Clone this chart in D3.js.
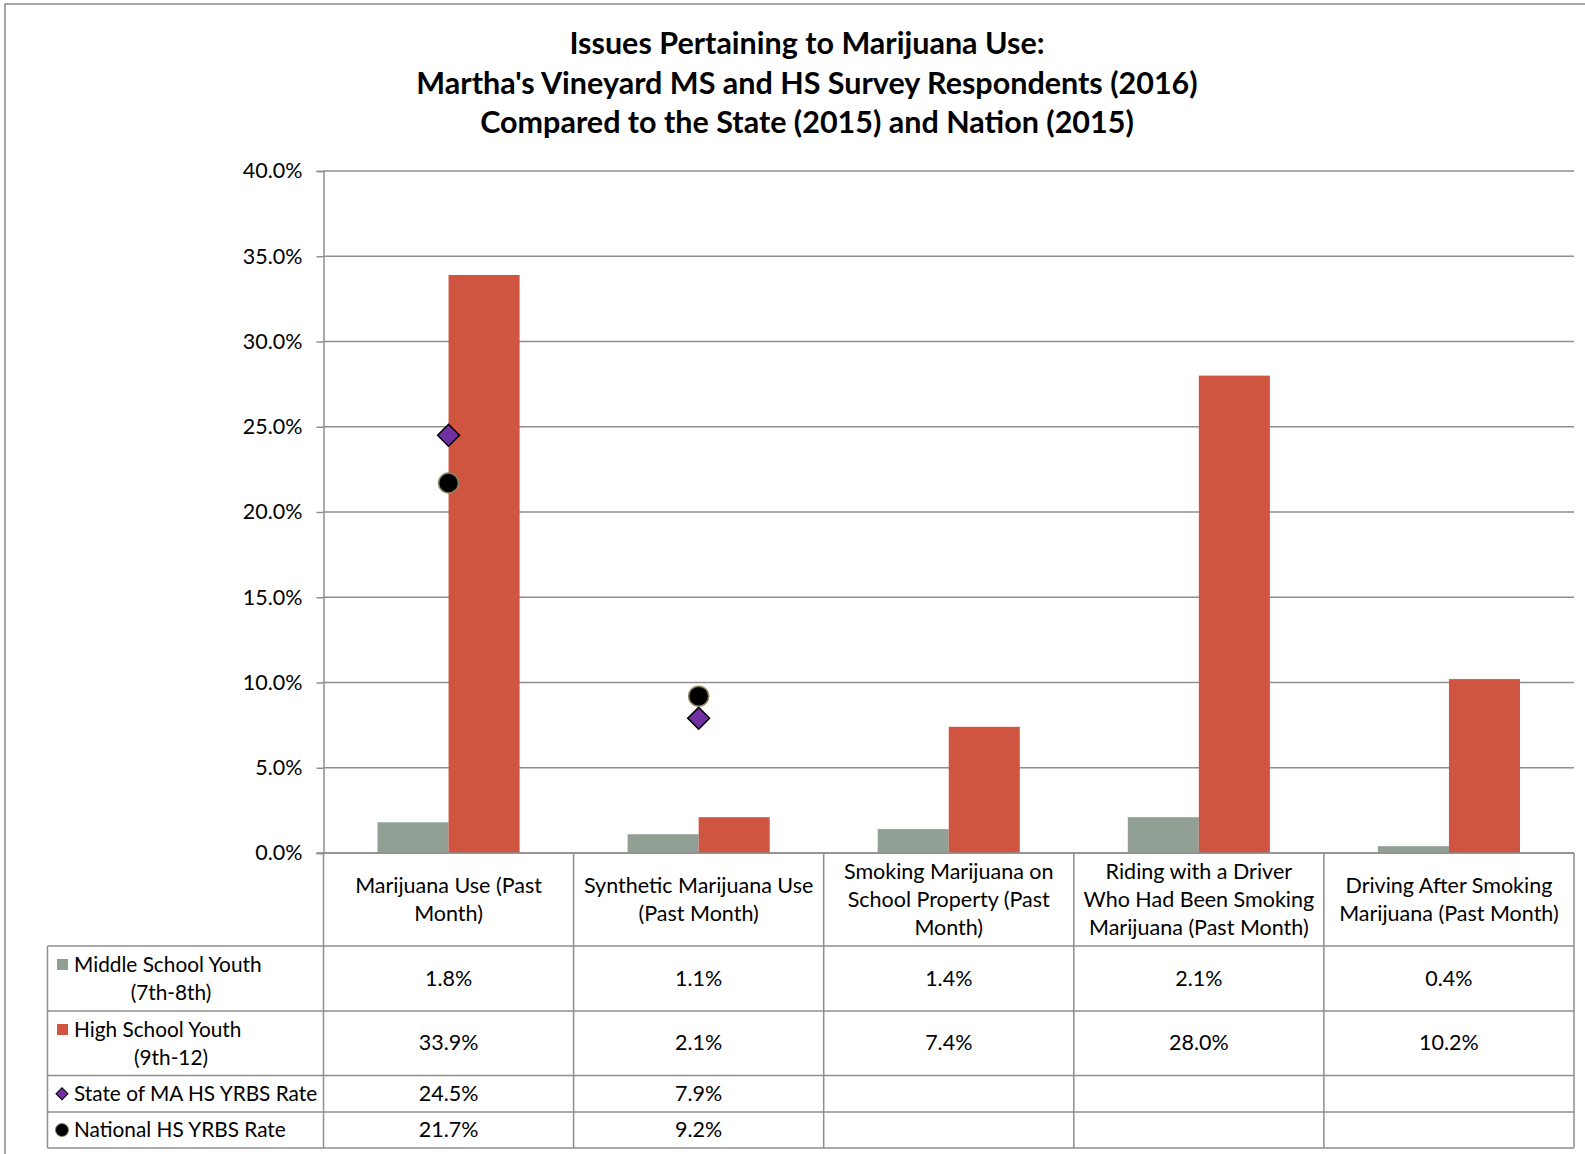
<!DOCTYPE html>
<html>
<head>
<meta charset="utf-8">
<script src="https://cdn.jsdelivr.net/npm/d3@7"></script>
<style>
  body { margin: 0; background: #fff; }
  svg { display: block; font-family: Lato, "Open Sans", sans-serif; }
</style>
</head>
<body>
<svg id="chart"></svg>
<script>
// data
var categories = [
  ["Marijuana Use (Past", "Month)"],
  ["Synthetic Marijuana Use", "(Past Month)"],
  ["Smoking Marijuana on", "School Property (Past", "Month)"],
  ["Riding with a Driver", "Who Had Been Smoking", "Marijuana (Past Month)"],
  ["Driving  After Smoking", "Marijuana (Past Month)"]
]
var msValues = [1.8, 1.1, 1.4, 2.1, 0.4]
var hsValues = [33.9, 2.1, 7.4, 28.0, 10.2]
var stateValues = [24.5, 7.9, null, null, null]
var nationValues = [21.7, 9.2, null, null, null]
var yTicks = [0, 5, 10, 15, 20, 25, 30, 35, 40]
var titleLines = [
  "Issues Pertaining to Marijuana Use:",
  "Martha's Vineyard MS and HS Survey Respondents (2016)",
  "Compared to the State (2015) and Nation (2015)"
]

var width = 1585
var height = 1154
var plotLeft = 323.5, plotRight = 1574, plotTop = 171, plotBottom = 853
var tableLeft = 47.5
var rowEdges = [853, 946, 1011, 1075.5, 1112, 1148]
var gridColor = "#8e8e8e"
var msColor = "#929f94"
var hsColor = "#d05541"
var fs = "21.5px"
var legendFs = "20.8px"

var svg = d3.select("#chart")
    .attr("width", width)
    .attr("height", height)

// outer chart frame
svg.append("rect")
    .attr("x", 5).attr("y", 4)
    .attr("width", width + 10).attr("height", height + 10)
    .attr("fill", "#fff")
    .attr("stroke", "#8a8a8a")
    .attr("stroke-width", 1.5)

// title
svg.append("g").selectAll("text")
    .data(titleLines)
    .enter().append("text")
    .attr("x", 807)
    .attr("y", function(d, i) { return 54 + i * 39.5 })
    .attr("text-anchor", "middle")
    .style("font-size", "30.5px")
    .style("font-weight", "bold")
    .style("fill", "#000")
    .text(function(d) { return d })

var x = d3.scaleBand()
    .domain(d3.range(categories.length))
    .range([plotLeft, plotRight])

var x1 = d3.scaleBand()
    .domain(["ms", "hs"])
    .range([0, x.bandwidth()])
    .paddingOuter(0.76)
    .paddingInner(0)

var y = d3.scaleLinear()
    .domain([0, 40])
    .range([plotBottom, plotTop])

// gridlines
svg.append("g")
    .selectAll("line")
    .data(yTicks)
    .enter().append("line")
    .attr("x1", plotLeft).attr("x2", plotRight)
    .attr("y1", function(d) { return y(d) })
    .attr("y2", function(d) { return y(d) })
    .attr("stroke", gridColor)
    .attr("stroke-width", 1.5)

// y axis
var yAxis = svg.append("g")
    .attr("transform", "translate(" + plotLeft + ",0)")
    .call(d3.axisLeft(y).tickValues(yTicks).tickSize(7).tickPadding(14)
        .tickFormat(function(d) { return d.toFixed(1) + "%" }))
yAxis.selectAll("path, line").attr("stroke", gridColor).attr("stroke-width", 1.5)
yAxis.selectAll("text")
    .style("font-size", fs)
    .style("font-family", "Lato, sans-serif")
    .attr("fill", "#000")

// bars
var bars = svg.append("g")
bars.selectAll("rect.ms")
    .data(msValues)
    .enter().append("rect")
    .attr("class", "ms")
    .attr("x", function(d, i) { return x(i) + x1("ms") })
    .attr("width", x1.bandwidth())
    .attr("y", function(d) { return y(d) })
    .attr("height", function(d) { return y(0) - y(d) })
    .attr("fill", msColor)
bars.selectAll("rect.hs")
    .data(hsValues)
    .enter().append("rect")
    .attr("class", "hs")
    .attr("x", function(d, i) { return x(i) + x1("hs") })
    .attr("width", x1.bandwidth())
    .attr("y", function(d) { return y(d) })
    .attr("height", function(d) { return y(0) - y(d) })
    .attr("fill", hsColor)

// markers
var diamond = d3.symbol().type(d3.symbolSquare).size(240)
svg.append("g").selectAll("path")
    .data(stateValues.map(function(v, i) { return {v: v, i: i} }).filter(function(d) { return d.v != null }))
    .enter().append("path")
    .attr("d", diamond)
    .attr("transform", function(d) {
        return "translate(" + (x(d.i) + x.bandwidth() / 2) + "," + y(d.v) + ") rotate(45)"
    })
    .attr("fill", "#7030a0")
    .attr("stroke", "#000")
    .attr("stroke-width", 1.5)

svg.append("g").selectAll("circle")
    .data(nationValues.map(function(v, i) { return {v: v, i: i} }).filter(function(d) { return d.v != null }))
    .enter().append("circle")
    .attr("cx", function(d) { return x(d.i) + x.bandwidth() / 2 })
    .attr("cy", function(d) { return y(d.v) })
    .attr("r", 10)
    .attr("fill", "#000")
    .attr("stroke", "#8b8661")
    .attr("stroke-width", 1.5)

// data table
var table = svg.append("g")
var hLines = rowEdges.map(function(ry, i) {
    return {y: ry, x1: i == 0 ? plotLeft - 7 : tableLeft}
})
table.selectAll("line.h")
    .data(hLines)
    .enter().append("line")
    .attr("x1", function(d) { return d.x1 }).attr("x2", plotRight)
    .attr("y1", function(d) { return d.y }).attr("y2", function(d) { return d.y })
    .attr("stroke", gridColor).attr("stroke-width", 1.5)

var vx = x.domain().map(function(i) { return x(i) }).concat([plotRight])
table.selectAll("line.v")
    .data(vx)
    .enter().append("line")
    .attr("x1", function(d) { return d }).attr("x2", function(d) { return d })
    .attr("y1", rowEdges[0]).attr("y2", rowEdges[5])
    .attr("stroke", gridColor).attr("stroke-width", 1.5)
table.append("line")
    .attr("x1", tableLeft).attr("x2", tableLeft)
    .attr("y1", rowEdges[1]).attr("y2", rowEdges[5])
    .attr("stroke", gridColor).attr("stroke-width", 1.5)

// category headers
var lineH = 28
categories.forEach(function(lines, i) {
    var cy = (rowEdges[0] + rowEdges[1]) / 2
    var y0 = cy - (lines.length - 1) * lineH / 2
    table.append("text")
        .attr("text-anchor", "middle")
        .style("font-size", fs)
        .selectAll("tspan")
        .data(lines)
        .enter().append("tspan")
        .attr("x", x(i) + x.bandwidth() / 2)
        .attr("y", function(d, k) { return y0 + k * lineH + 7 })
        .text(function(d) { return d })
})

// value rows
var rows = [
  {label: ["Middle School Youth", "(7th-8th)"], values: msValues, key: "ms"},
  {label: ["High School Youth", "(9th-12)"], values: hsValues, key: "hs"},
  {label: ["State of MA HS YRBS Rate"], values: stateValues, key: "state"},
  {label: ["National HS YRBS Rate"], values: nationValues, key: "nation"}
]
rows.forEach(function(r, ri) {
    var r0 = rowEdges[ri + 1], r1 = rowEdges[ri + 2]
    var cy = (r0 + r1) / 2
    r.values.forEach(function(v, i) {
        if (v == null) return
        table.append("text")
            .attr("x", x(i) + x.bandwidth() / 2)
            .attr("y", cy + 7)
            .attr("text-anchor", "middle")
            .style("font-size", fs)
            .text(v.toFixed(1) + "%")
    })
    // legend key + label
    var ly = r.label.length > 1 ? r0 + 19 : cy
    if (r.key == "ms" || r.key == "hs") {
        table.append("rect")
            .attr("x", 57).attr("y", ly - 6)
            .attr("width", 11).attr("height", 11)
            .attr("fill", r.key == "ms" ? msColor : hsColor)
    } else if (r.key == "state") {
        table.append("path")
            .attr("d", d3.symbol().type(d3.symbolSquare).size(72))
            .attr("transform", "translate(62," + ly + ") rotate(45)")
            .attr("fill", "#7030a0").attr("stroke", "#000").attr("stroke-width", 1)
    } else {
        table.append("circle")
            .attr("cx", 62).attr("cy", ly).attr("r", 6.5)
            .attr("fill", "#000").attr("stroke", "#8b8661").attr("stroke-width", 1)
    }
    table.append("text")
        .attr("x", 74).attr("y", ly + 7)
        .style("font-size", legendFs)
        .text(r.label[0])
    if (r.label.length > 1) {
        table.append("text")
            .attr("x", 171).attr("y", ly + 7 + lineH)
            .attr("text-anchor", "middle")
            .style("font-size", legendFs)
            .text(r.label[1])
    }
})
</script>
</body>
</html>
